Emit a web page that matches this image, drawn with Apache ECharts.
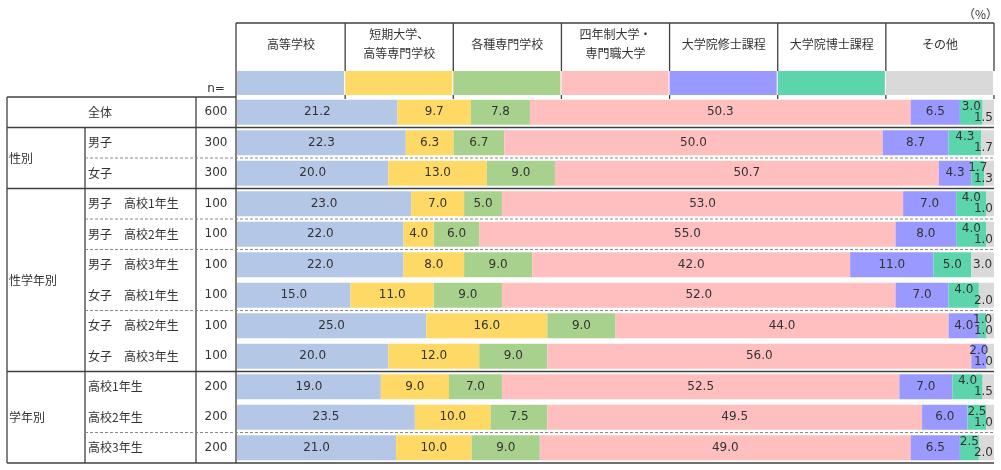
<!DOCTYPE html>
<html>
<head>
<meta charset="utf-8">
<script src="https://cdn.jsdelivr.net/npm/echarts@6/dist/echarts.min.js"></script>
<style>
html, body { margin: 0; padding: 0; background: #fff; }
#chart { width: 1001px; height: 470px; }
</style>
</head>
<body>
<div id="chart"></div>
<script>
// data
var seriesNames = ['高等学校', '短期大学、\n高等専門学校', '各種専門学校', '四年制大学・\n専門職大学', '大学院修士課程', '大学院博士課程', 'その他'];
var rowLabels = ['全体', '男子', '女子',
    '男子　高校1年生', '男子　高校2年生', '男子　高校3年生',
    '女子　高校1年生', '女子　高校2年生', '女子　高校3年生',
    '高校1年生', '高校2年生', '高校3年生'];
var nValues = [600, 300, 300, 100, 100, 100, 100, 100, 100, 200, 200, 200];
var groupLabels = ['性別', '性学年別', '学年別'];
var groupRows = [[1, 2], [3, 8], [9, 11]];

var koukou  = [21.2, 22.3, 20.0, 23.0, 22.0, 22.0, 15.0, 25.0, 20.0, 19.0, 23.5, 21.0];
var tanki   = [9.7, 6.3, 13.0, 7.0, 4.0, 8.0, 11.0, 16.0, 12.0, 9.0, 10.0, 10.0];
var senmon  = [7.8, 6.7, 9.0, 5.0, 6.0, 9.0, 9.0, 9.0, 9.0, 7.0, 7.5, 9.0];
var daigaku = [50.3, 50.0, 50.7, 53.0, 55.0, 42.0, 52.0, 44.0, 56.0, 52.5, 49.5, 49.0];
var shushi  = [6.5, 8.7, 4.3, 7.0, 8.0, 11.0, 7.0, 4.0, 2.0, 7.0, 6.0, 6.5];
var hakushi = [3.0, 4.3, 1.7, 4.0, 4.0, 5.0, 4.0, 1.0, 0.0, 4.0, 2.5, 2.5];
var sonota  = [1.5, 1.7, 1.3, 1.0, 1.0, 3.0, 2.0, 1.0, 1.0, 1.5, 1.0, 2.0];

var allValues = [koukou, tanki, senmon, daigaku, shushi, hakushi, sonota];
var colors = ['#b4c7e7', '#ffd966', '#a9d18e', '#ffbfbf', '#9999ff', '#5dd5ac', '#d9d9d9'];

var jpFont = '"Noto Sans CJK JP", sans-serif';
var numFont = '"DejaVu Sans", sans-serif';
var textColor = '#333';

// crowded tail: last segment at bottom right, the one before it on top
function labelPos(s, i) {
    var last = allValues.length - 1;
    if (sonota[i] >= 3) return 'inside';
    if (s === last) return 'insideBottomRight';
    var prev = last - 1;
    while (prev > 0 && allValues[prev][i] === 0) prev--;
    if (s === prev) return 'insideTop';
    return 'inside';
}

var series = allValues.map(function (vals, s) {
    return {
        name: seriesNames[s],
        type: 'bar',
        stack: 'total',
        barWidth: 25,
        yAxisIndex: 0,
        itemStyle: { color: colors[s] },
        data: vals.map(function (v, i) {
            return {
                value: v,
                label: { position: labelPos(s, i), distance: 1 }
            };
        }),
        label: {
            show: true,
            color: textColor,
            fontFamily: numFont,
            fontSize: 12,
            formatter: function (p) { return p.value === 0 ? '' : p.value.toFixed(1); }
        }
    };
});

var chart = echarts.init(document.getElementById('chart'));
chart.setOption({
    animation: false,
    grid: { left: 237, right: 7, top: 97, bottom: 7 },
    xAxis: { type: 'value', min: 0, max: 100, show: false },
    yAxis: [{
        type: 'category',
        inverse: true,
        data: rowLabels,
        axisLine: { show: false },
        axisTick: { show: false },
        axisLabel: { align: 'left', margin: 149, color: textColor, fontFamily: jpFont, fontSize: 12 }
    }, {
        type: 'category',
        inverse: true,
        position: 'left',
        data: nValues.map(String),
        axisLine: { show: false },
        axisTick: { show: false },
        axisLabel: { align: 'center', margin: 21, color: textColor, fontFamily: numFont, fontSize: 12 }
    }],
    series: series
});

// table frame, header and group labels from the axis positions
var yPix = function (i) { return chart.convertToPixel({ yAxisIndex: 0 }, i); };
var xPix = function (v) { return chart.convertToPixel({ xAxisIndex: 0 }, v); };
var half = (yPix(1) - yPix(0)) / 2;
var tableTop = yPix(0) - half;
var tableBottom = yPix(rowLabels.length - 1) + half;
var plotLeft = xPix(0) - 1;
var plotRight = xPix(100);
var colX = [7, 85, 196, plotLeft];
var headTop = 23, swTop = 71, swBottom = 95;
var dashedAfter = [1, 3, 4, 6, 10];
var solidAfter = [0, 2, 8];

var g = [];
function line(x1, y1, x2, y2, dashed) {
    g.push({
        type: 'line', z: 100,
        shape: { x1: x1, y1: y1, x2: x2, y2: y2 },
        style: dashed ? { stroke: '#888', lineWidth: 1, lineDash: [3, 2] } : { stroke: '#404040', lineWidth: 1.3 }
    });
}
function text(x, y, str, align, font, size) {
    g.push({
        type: 'text', z: 100, x: x, y: y,
        style: { text: str, fill: textColor, font: size + 'px ' + font, align: align, verticalAlign: 'middle', lineHeight: 19 }
    });
}

// header
line(plotLeft, headTop, plotRight, headTop);
seriesNames.forEach(function (name, s) {
    var x0 = xPix(100 * s / seriesNames.length);
    var x1 = xPix(100 * (s + 1) / seriesNames.length);
    g.push({ type: 'rect', shape: { x: x0, y: swTop, width: x1 - x0 - 1, height: swBottom - swTop }, style: { fill: colors[s] } });
    text((x0 + x1) / 2, 44, name, 'center', jpFont, 12);
    line(x1, headTop, x1, swTop);
    line(x1, swBottom, x1, swBottom + 4);
});
text(998, 14, '（%）', 'right', jpFont, 12);
text(216, 89, 'n=', 'center', numFont, 12);

// left table
line(colX[0], tableTop, plotLeft, tableTop);
line(colX[0], tableTop, colX[0], tableBottom);
line(colX[1], yPix(0) + half, colX[1], tableBottom);
line(colX[2], tableTop, colX[2], tableBottom);
line(plotLeft, headTop, plotLeft, tableBottom);
solidAfter.forEach(function (i) { line(colX[0], yPix(i) + half, plotRight, yPix(i) + half); });
dashedAfter.forEach(function (i) { line(colX[1], yPix(i) + half, plotRight, yPix(i) + half, true); });
line(colX[0], tableBottom, plotRight, tableBottom);

groupLabels.forEach(function (name, k) {
    var y = (yPix(groupRows[k][0]) + yPix(groupRows[k][1])) / 2;
    text(9, y, name, 'left', jpFont, 12);
});

chart.setOption({ graphic: g });
</script>
</body>
</html>
